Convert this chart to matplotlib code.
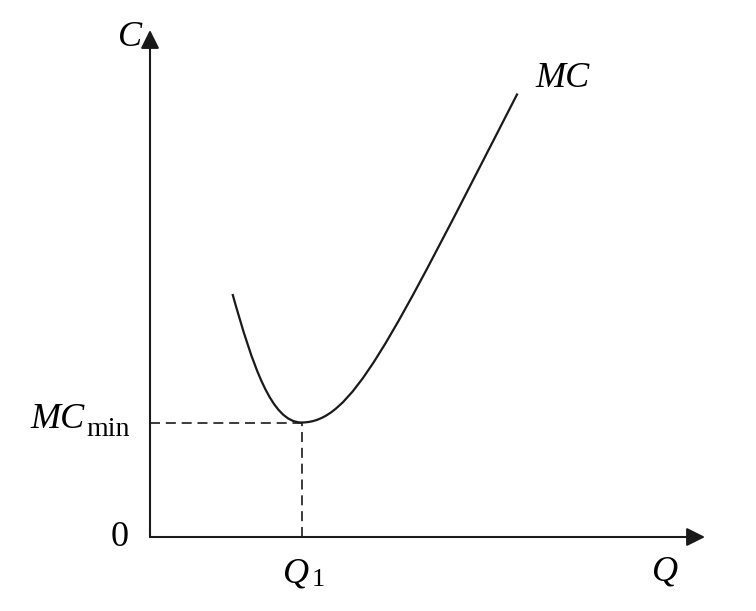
import matplotlib
matplotlib.use('Agg')
import matplotlib.pyplot as plt
from matplotlib.path import Path
from matplotlib.patches import PathPatch
import numpy as np

plt.rcParams['font.family'] = 'Liberation Serif'

# marginal cost curve: start, minimum and end point
knot_q = [1.65, 3.03, 7.35]
knot_mc = [4.86, 2.29, 8.87]
# bezier control points for the two arcs (left arc, right arc)
ctrl_q = [2.05, 2.43, 4.03, 4.75]
ctrl_mc = [3.44, 2.29, 2.29, 3.80]
q1 = 3.03
mc_min = 2.29
x_max = 11.1
y_max = 10.14

fig = plt.figure(figsize=(7.56, 6.11), dpi=100)
ax = fig.add_axes([150/756, (611-537)/611, (705-150)/756, (537-30)/611])
ax.set_xlim(0, x_max)
ax.set_ylim(0, y_max)
ax.axis('off')

ink = '#1a1a1a'

# axes with arrows
arrow = dict(arrowstyle='-|>', color=ink, lw=1.5, mutation_scale=28,
             shrinkA=0, shrinkB=0)
ax.annotate('', xy=(x_max, 0), xytext=(0, 0), arrowprops=arrow, annotation_clip=False)
ax.annotate('', xy=(0, y_max), xytext=(0, 0), arrowprops=arrow, annotation_clip=False)

# the curve, two cubic bezier arcs
verts = [(knot_q[0], knot_mc[0]),
         (ctrl_q[0], ctrl_mc[0]), (ctrl_q[1], ctrl_mc[1]), (knot_q[1], knot_mc[1]),
         (ctrl_q[2], ctrl_mc[2]), (ctrl_q[3], ctrl_mc[3]), (knot_q[2], knot_mc[2])]
codes = [Path.MOVETO] + [Path.CURVE4] * 6
ax.add_patch(PathPatch(Path(verts, codes), fill=False, edgecolor=ink, lw=1.6))

# dashed guides
ax.plot([0, q1], [mc_min, mc_min], color=ink, lw=1.2, ls=(0, (6, 3.5)))
ax.plot([q1, q1], [0, mc_min], color=ink, lw=1.2, ls=(0, (6, 3.5)))

fs = 26
ax.text(-0.4, y_max - 0.15, 'C', fontsize=fs, style='italic', ha='center', va='center')
ax.text(knot_q[-1] + 0.9, knot_mc[-1] + 0.3, 'MC', fontsize=fs, style='italic',
        ha='center', va='center')
ax.text(-1.3, mc_min + 0.05, 'MC', fontsize=fs, style='italic', ha='right', va='center')
ax.text(-1.27, mc_min - 0.14, 'min', fontsize=20, ha='left', va='center')
ax.text(-0.6, 0, '0', fontsize=fs, ha='center', va='center')
ax.text(q1 - 0.1, -0.75, 'Q', fontsize=fs, style='italic', ha='center', va='center')
ax.text(q1 + 0.2, -0.85, '1', fontsize=19, ha='left', va='center')
ax.text(10.3, -0.7, 'Q', fontsize=fs, style='italic', ha='center', va='center')

fig.savefig('out.png', dpi=100)
